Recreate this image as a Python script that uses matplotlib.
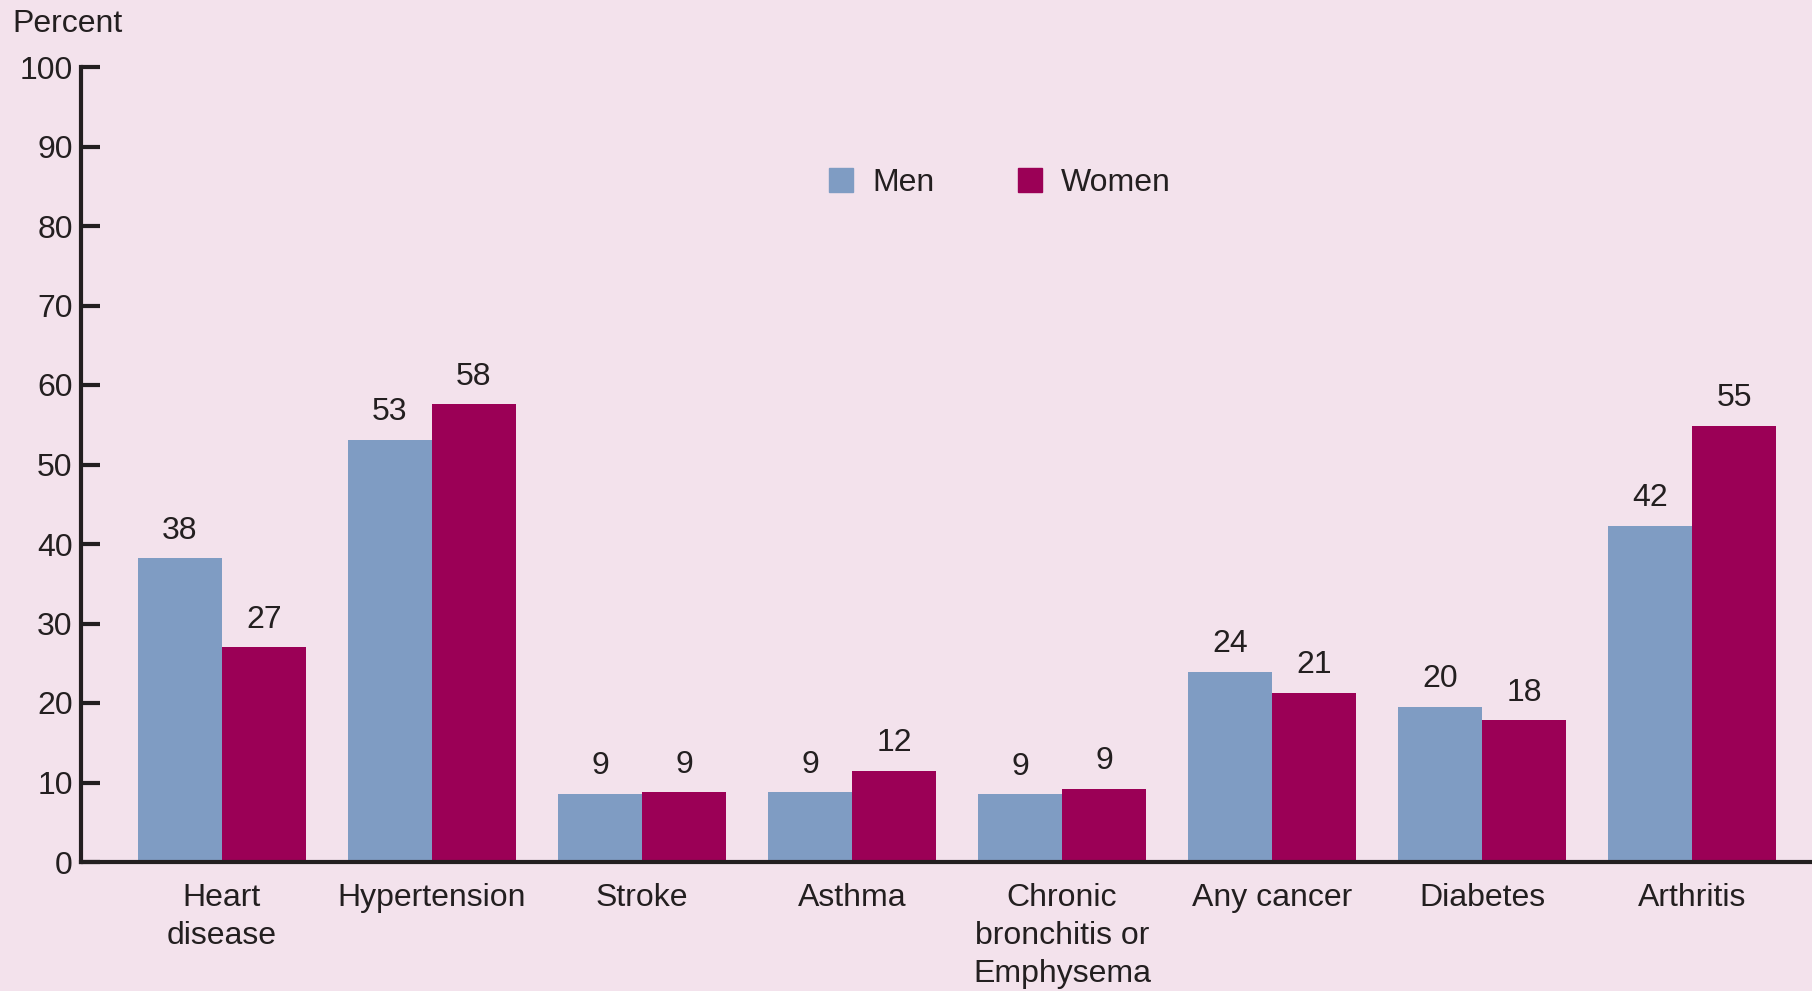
import matplotlib
matplotlib.use('Agg')
import matplotlib.pyplot as plt
from matplotlib.patches import Patch
import numpy as np

plt.rcParams['font.family'] = ['Liberation Sans', 'DejaVu Sans']

# data
categories = ['Heart\ndisease', 'Hypertension', 'Stroke', 'Asthma',
              'Chronic\nbronchitis or\nEmphysema', 'Any cancer', 'Diabetes', 'Arthritis']
men_pct = [38.2, 53.1, 8.6, 8.8, 8.5, 23.9, 19.5, 42.3]
women_pct = [27.0, 57.6, 8.8, 11.5, 9.2, 21.3, 17.8, 54.9]
men_labels = ['38', '53', '9', '9', '9', '24', '20', '42']
women_labels = ['27', '58', '9', '12', '9', '21', '18', '55']

bg = '#f3e2ec'
men_color = '#7f9cc3'
women_color = '#9b0056'
text_color = '#231f20'
fs = 23

fig = plt.figure(figsize=(18.12, 9.91), dpi=100, facecolor=bg)
ax = fig.add_axes([81 / 1812, 129 / 991, 1731 / 1812, 795 / 991])
ax.set_facecolor(bg)

x = np.arange(len(categories))
w = 0.4
bars_m = ax.bar(x - w / 2, men_pct, w, color=men_color)
bars_w = ax.bar(x + w / 2, women_pct, w, color=women_color)

for bars, labels in ((bars_m, men_labels), (bars_w, women_labels)):
    for b, lab in zip(bars, labels):
        ax.annotate(lab, (b.get_x() + b.get_width() / 2, b.get_height()),
                    xytext=(0, 9), textcoords='offset points',
                    ha='center', va='bottom', fontsize=fs, color=text_color)

ax.set_xlim(-0.671, 7.571)
ax.set_ylim(0, 100)
ax.set_yticks(range(0, 101, 10))
ax.set_xticks(x)
ax.set_xticklabels(categories, fontsize=fs, color=text_color, linespacing=1.35)
ax.tick_params(axis='x', length=0, pad=15)
ax.tick_params(axis='y', direction='in', length=14, width=3, pad=6,
               labelsize=fs, labelcolor=text_color, color=text_color)

for s in ('top', 'right'):
    ax.spines[s].set_visible(False)
for s in ('left', 'bottom'):
    ax.spines[s].set_linewidth(3)
    ax.spines[s].set_color(text_color)

fig.text(12 / 1812, 1 - 24 / 991, 'Percent', fontsize=fs, color=text_color,
         ha='left', va='center')

handles = [Patch(color=men_color, label='Men'), Patch(color=women_color, label='Women')]
fig.legend(handles=handles, loc='center', bbox_to_anchor=(1000 / 1812, 1 - 183 / 991),
           ncol=2, frameon=False, fontsize=fs, handlelength=0.75, handleheight=0.75,
           handletextpad=0.6, columnspacing=2.6, labelcolor=text_color)

fig.savefig('out.png', dpi=100, facecolor=bg)
